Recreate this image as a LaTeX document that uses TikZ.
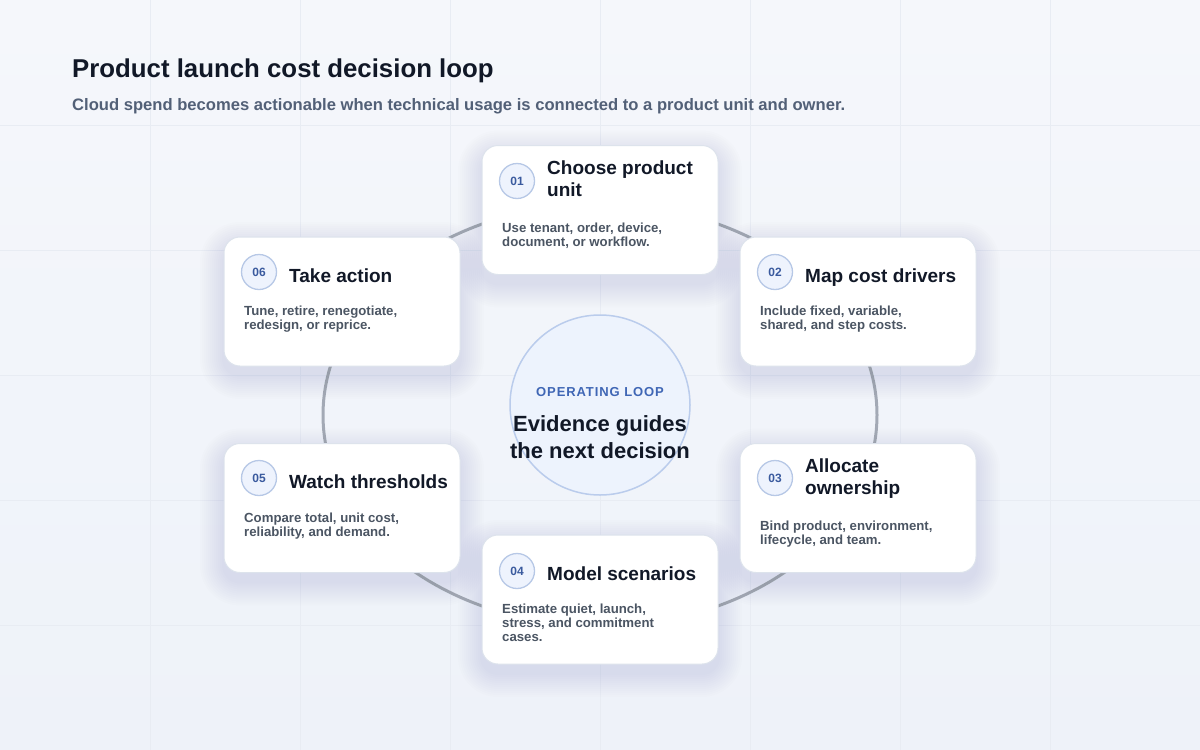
\documentclass[tikz,border=0pt]{standalone}
\usepackage{fontspec}
\setmainfont{Liberation Sans}
\definecolor{bgA}{HTML}{F5F7FB}
\definecolor{bgB}{HTML}{EEF2F9}
\definecolor{gridc}{HTML}{E8ECF3}
\definecolor{ink}{HTML}{111827}
\definecolor{muted}{HTML}{4B5563}
\definecolor{subc}{HTML}{526077}
\definecolor{ringc}{HTML}{A3A9B5}
\definecolor{cardline}{HTML}{DDE3EC}
\definecolor{shadowc}{HTML}{4A5A78}
\definecolor{badgefill}{HTML}{EEF3FD}
\definecolor{badgeline}{HTML}{B7C8E6}
\definecolor{badgetext}{HTML}{3A5A9E}
\definecolor{centerfill}{HTML}{EDF3FD}
\definecolor{centerline}{HTML}{BACCEC}
\definecolor{loopblue}{HTML}{3F66B5}
\begin{document}
\begin{tikzpicture}[x=1pt,y=-1pt,
  gridline/.style={draw=gridc,line width=0.8},
  ring/.style={draw=ringc,line width=3},
  card/.style={draw=cardline,line width=1,fill=white,rounded corners=16pt,
    minimum width=236pt,minimum height=129pt,inner sep=0pt},
  badge/.style={circle,minimum size=35pt,inner sep=0pt,fill=badgefill,draw=badgeline,line width=1.3,
    text=badgetext,font=\bfseries\fontsize{12}{13}\selectfont},
  ttl/.style={anchor=north west,inner sep=0pt,align=left,text=ink,font=\bfseries\fontsize{19}{21.5}\selectfont},
  bdy/.style={anchor=north west,inner sep=0pt,align=left,text=muted,font=\bfseries\fontsize{13.2}{13.7}\selectfont},
  hub/.style={circle,minimum size=180pt,inner sep=0pt,fill=centerfill,draw=centerline,line width=1.5}
]
\useasboundingbox (0,0) rectangle (1200,750);
\shade[top color=bgA,bottom color=bgB] (0,0) rectangle (1200,750);
\foreach \gx in {150,300,...,1050} \draw[gridline] (\gx,0) -- (\gx,750);
\foreach \gy in {125,250,...,625} \draw[gridline] (0,\gy) -- (1200,\gy);

% heading
\node[anchor=base west,inner sep=0pt,text=ink,font=\bfseries\fontsize{25.8}{30}\selectfont] (title) at (72,77) {Product launch cost decision loop};
\node[anchor=base west,inner sep=0pt,text=subc,font=\bfseries\fontsize{16.6}{19}\selectfont] (subtitle) at (72,110) {Cloud spend becomes actionable when technical usage is connected to a product unit and owner.};

% loop ring
\draw[ring] (600,415) ellipse [x radius=277, y radius=211];

% center hub
\node[hub] (hub) at (600,405) {};
\node[text=loopblue,font=\bfseries\fontsize{13}{15}\selectfont\addfontfeature{LetterSpace=7}] (hublabel) at (600,392.5) {OPERATING LOOP};
\node[align=center,text=ink,font=\bfseries\fontsize{22}{27}\selectfont] (hubtext) at (600,437) {Evidence guides\\the next decision};

% soft shadows under cards
\foreach \cx/\cy in {600/210,858/301.5,858/508,600/599.5,342/508,342/301.5}{
  \foreach \k in {2,4,...,24}{
    \fill[shadowc,opacity=0.009,rounded corners={16pt+\k pt}]
      (\cx-118-\k,\cy-64.5-\k+9) rectangle (\cx+118+\k,\cy+64.5+\k+9);
  }
}

% cards
\node[card] (c1) at (600,210) {};
\node[card] (c2) at (858,301.5) {};
\node[card] (c3) at (858,508) {};
\node[card] (c4) at (600,599.5) {};
\node[card] (c5) at (342,508) {};
\node[card] (c6) at (342,301.5) {};

% card 01
\node[badge] (b1) at (517,181) {01};
\node[ttl] (t1) at (547,161) {Choose product\\unit};
\node[bdy] (d1) at (502,223) {Use tenant, order, device,\\document, or workflow.};
% card 02
\node[badge] (b2) at (775,272) {02};
\node[ttl] (t2) at (805,268.5) {Map cost drivers};
\node[bdy] (d2) at (760,306) {Include fixed, variable,\\shared, and step costs.};
% card 03
\node[badge] (b3) at (775,478) {03};
\node[ttl] (t3) at (805,459) {Allocate\\ownership};
\node[bdy] (d3) at (760,521) {Bind product, environment,\\lifecycle, and team.};
% card 04
\node[badge] (b4) at (517,571) {04};
\node[ttl] (t4) at (547,566.5) {Model scenarios};
\node[bdy] (d4) at (502,604) {Estimate quiet, launch,\\stress, and commitment\\cases.};
% card 05
\node[badge] (b5) at (259,478) {05};
\node[ttl] (t5) at (289,474.5) {Watch thresholds};
\node[bdy] (d5) at (244,513) {Compare total, unit cost,\\reliability, and demand.};
% card 06
\node[badge] (b6) at (259,272) {06};
\node[ttl] (t6) at (289,268.5) {Take action};
\node[bdy] (d6) at (244,306) {Tune, retire, renegotiate,\\redesign, or reprice.};
\end{tikzpicture}
\end{document}
